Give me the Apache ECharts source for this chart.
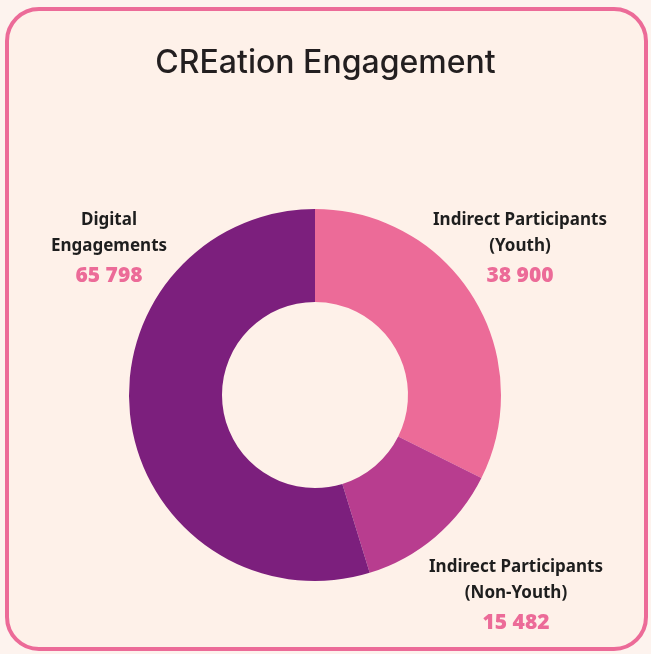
<!DOCTYPE html>
<html>
<head>
<meta charset="utf-8">
<script src="https://cdn.jsdelivr.net/npm/echarts@6/dist/echarts.min.js"></script>
<style>
  html, body { margin: 0; padding: 0; background: #fdf3ee; }
  #chart { width: 651px; height: 654px; }
</style>
</head>
<body>
<div id="chart"></div>
<script>
// categories and values
var names = ['Indirect Participants\n(Youth)', 'Indirect Participants\n(Non-Youth)', 'Digital\nEngagements'];
var values = [38900, 15482, 65798];
var colors = ['#ec6b98', '#b83d8f', '#7c1f7d'];

// label anchor points (top centre of each text block)
var labelPos = [
  { x: 520, y: 207 },
  { x: 516, y: 554 },
  { x: 109, y: 207 }
];

function fmt(v) {
  return String(v).replace(/\B(?=(\d{3})+(?!\d))/g, ' ');
}

var chart = echarts.init(document.getElementById('chart'));
chart.setOption({
  backgroundColor: '#fdf3ee',
  title: {
    text: 'CREation Engagement',
    left: 'center',
    top: 42,
    textStyle: {
      fontFamily: 'Inter',
      fontSize: 32,
      fontWeight: 500,
      color: '#231f20'
    }
  },
  graphic: [{
    type: 'rect',
    z: -1,
    shape: { x: 7, y: 9, width: 639, height: 640, r: 32 },
    style: { fill: '#fef1e9', stroke: '#ec6b98', lineWidth: 4 }
  }],
  series: [{
    type: 'pie',
    center: [315, 395],
    radius: [93, 186],
    startAngle: 90,
    clockwise: true,
    silent: true,
    data: names.map(function (n, i) {
      return { name: n, value: values[i], itemStyle: { color: colors[i] } };
    }),
    labelLine: { show: false },
    label: {
      show: true,
      position: 'outside',
      align: 'center',
      verticalAlign: 'top',
      overflow: 'none',
      formatter: function (p) {
        return '{n|' + p.name.split('\n').join('}\n{n|') + '}\n{v|' + fmt(p.value) + '}';
      },
      rich: {
        n: {
          fontFamily: 'Noto Sans',
          fontSize: 17,
          fontWeight: 'bold',
          color: '#1e1e1e',
          lineHeight: 26,
          align: 'center'
        },
        v: {
          fontFamily: 'Noto Sans',
          fontSize: 21,
          fontWeight: 900,
          color: '#ec6b98',
          lineHeight: 34,
          align: 'center'
        }
      }
    },
    labelLayout: function (p) {
      var pos = labelPos[p.dataIndex];
      return { x: pos.x, y: pos.y, align: 'center', verticalAlign: 'top' };
    }
  }]
});
</script>
</body>
</html>
